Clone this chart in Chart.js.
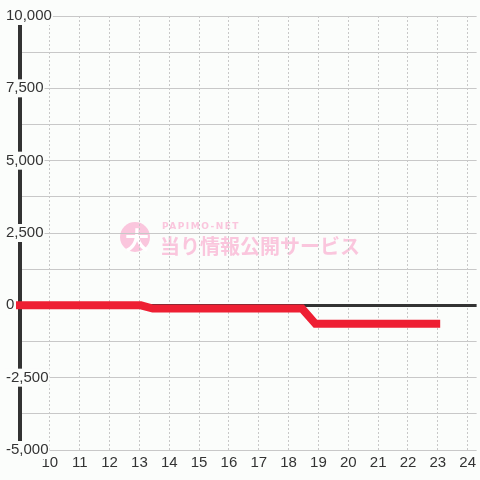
<!DOCTYPE html>
<html>
<head>
<meta charset="utf-8">
<script src="https://cdn.jsdelivr.net/npm/chart.js@4"></script>
<style>
  html, body { margin: 0; padding: 0; background: #fbfdfb; }
</style>
</head>
<body>
<canvas id="chart" width="480" height="480"></canvas>
<script>
// ---- Daten ----
// Stunde (x) und Saldo (y) der roten Linie
const hours  = [8.5, 13.05, 13.45, 18.45, 18.9, 23.08];
const saldo  = [0,   0,     -110,  -110,  -640, -640];

// Beschriftungen
const hourLabels = [10, 11, 12, 13, 14, 15, 16, 17, 18, 19, 20, 21, 22, 23, 24];
const yLabels    = [-5000, -2500, 0, 2500, 5000, 7500, 10000];

const BG = '#fbfdfb';
const GRID = '#c8c8c8';
const DARK = '#333333';
const RED = '#ee1f33';
const PINK = '#fac6dd';
const FONT = '"Liberation Sans", Arial';

// Hintergrund + Wasserzeichen (unter dem Gitter)
const backgroundPlugin = {
  id: 'background',
  beforeDraw(chart) {
    const ctx = chart.ctx;
    ctx.save();
    ctx.fillStyle = BG;
    ctx.fillRect(0, 0, chart.width, chart.height);

    // Logo
    ctx.fillStyle = PINK;
    ctx.beginPath();
    ctx.arc(135, 237, 15, 0, Math.PI * 2);
    ctx.fill();
    ctx.fillStyle = '#ffffff';
    ctx.font = 'bold 24px "Noto Sans CJK JP"';
    ctx.textAlign = 'center';
    ctx.textBaseline = 'middle';
    ctx.fillText('大', 137, 240);

    ctx.fillStyle = PINK;
    ctx.textAlign = 'left';
    ctx.font = 'bold 9px "DejaVu Sans"';
    ctx.letterSpacing = '1.5px';
    ctx.fillText('PAPIMO-NET', 162, 227);
    ctx.letterSpacing = '0px';
    ctx.font = 'bold 20px "Noto Sans CJK JP"';
    ctx.fillText('当り情報公開サービス', 160, 246);
    ctx.restore();
  },
};

new Chart(document.getElementById('chart'), {
  type: 'scatter',
  data: {
    datasets: [{
      data: hours.map((h, i) => ({ x: h, y: saldo[i] })),
      showLine: true,
      borderColor: RED,
      backgroundColor: RED,
      borderWidth: 8,
      pointRadius: 0,
      tension: 0,
      borderJoinStyle: 'miter',
      clip: { left: 4, top: 5, right: 5, bottom: 5 },
    }],
  },
  options: {
    responsive: false,
    animation: false,
    layout: { padding: { left: 5, right: 0, top: 16, bottom: 4 } },
    plugins: {
      legend: { display: false },
      tooltip: { enabled: false },
    },
    scales: {
      x: {
        type: 'linear',
        min: 9,
        max: 24.3,
        border: { display: false, dash: [2, 2] },
        grid: { color: GRID, lineWidth: 1, drawTicks: false },
        ticks: {
          stepSize: 1,
          includeBounds: false,
          autoSkip: false,
          maxRotation: 0,
          padding: 4,
          color: DARK,
          font: { family: FONT, size: 15 },
          callback: v => hourLabels.includes(v) ? String(v) : '',
        },
      },
      y: {
        type: 'linear',
        min: -5000,
        max: 10000,
        afterFit: scale => { scale.width = 15; },
        border: { display: true, color: DARK, width: 4 },
        grid: {
          drawTicks: false,
          color: ctx => ctx.tick && ctx.tick.value === 0 ? DARK : GRID,
          lineWidth: ctx => ctx.tick && ctx.tick.value === 0 ? 3 : 1,
        },
        ticks: {
          stepSize: 1250,
          mirror: true,
          crossAlign: 'near',
          padding: -14,
          z: 1,
          color: DARK,
          font: { family: FONT, size: 15 },
          showLabelBackdrop: true,
          backdropColor: BG,
          backdropPadding: { left: 1, right: 1, top: 0, bottom: 0 },
          callback: v => yLabels.includes(v) ? v.toLocaleString('en-US') : '',
        },
      },
    },
  },
  plugins: [backgroundPlugin],
});
</script>
</body>
</html>
